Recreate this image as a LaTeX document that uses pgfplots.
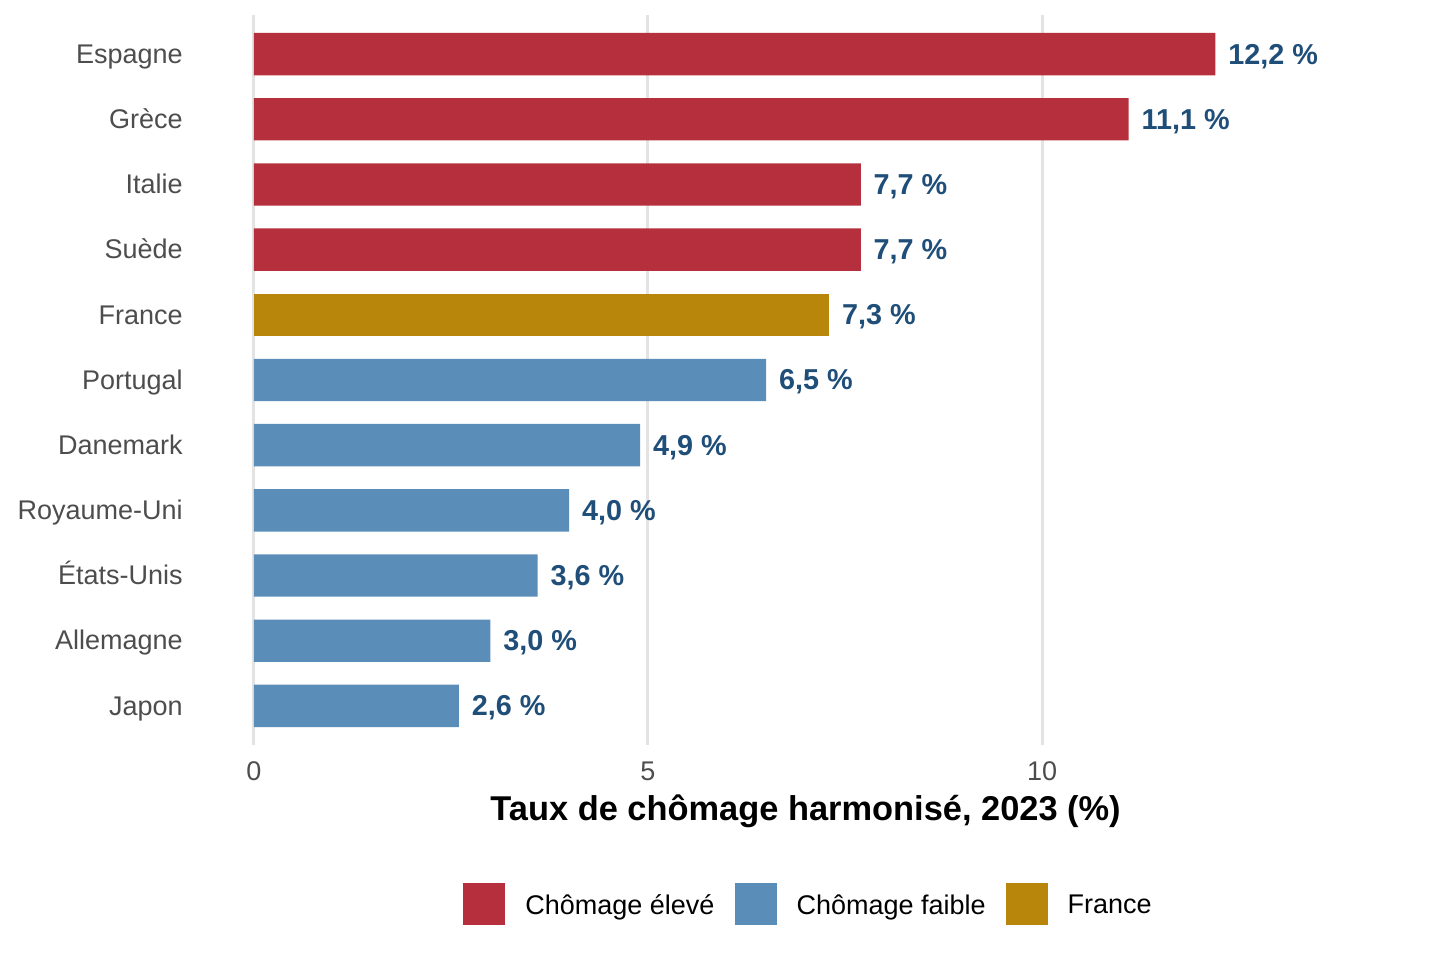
\documentclass[border=0pt]{standalone}
\usepackage{pgfplots}
\pgfplotsset{compat=1.18}
\usepackage{fontspec}
\setmainfont{Liberation Sans}
\definecolor{cred}{HTML}{B5303C}
\definecolor{cblue}{HTML}{5A8DB8}
\definecolor{cgold}{HTML}{B8860B}
\definecolor{lblue}{HTML}{1F4E79}
\definecolor{gridgray}{HTML}{E3E3E3}
\definecolor{tickgray}{HTML}{4D4D4D}
\begin{document}
\begin{tikzpicture}
\path (0,0) rectangle (720pt,480pt);
\begin{axis}[
  at={(99.4pt,107.5pt)}, anchor=south west,
  scale only axis, width=606.8pt, height=365pt,
  xmin=-0.7, xmax=14.7, ymin=0.4, ymax=11.6,
  xbar, bar width=0.65,
  axis line style={draw=none},
  major tick length=0pt,
  xtick={0,5,10},
  ytick={1,...,11},
  yticklabels={Japon,Allemagne,États-Unis,Royaume-Uni,Danemark,Portugal,France,Suède,Italie,Grèce,Espagne},
  xmajorgrids, ymajorgrids=false,
  grid style={color=gridgray, line width=1.5pt},
  /pgf/number format/assume math mode=true,
  yticklabel style={font=\fontsize{13.5}{13.5}\selectfont, text=tickgray, anchor=base east, inner sep=0pt, xshift=-7.9pt, yshift=-4.64pt},
  xticklabel style={font=\fontsize{13.5}{13.5}\selectfont, text=tickgray, anchor=north, inner sep=0pt, yshift=-8.3pt},
  xlabel={Taux de chômage harmonisé, 2023 (\%)},
  xlabel style={font=\bfseries\fontsize{17.2}{17.2}\selectfont, at={(axis description cs:0.5,-0.0904)}, anchor=center, inner sep=0pt},
  point meta=x,
  nodes near coords={\pgfmathprintnumber[fixed,fixed zerofill,precision=1,use comma]{\pgfplotspointmeta}~\%},
  nodes near coords style={anchor=base west, inner sep=0pt, xshift=6.25pt, yshift=-4.95pt, font=\bfseries\fontsize{14.4}{14.4}\selectfont, text=lblue},
  legend style={at={(axis description cs:0.5016,-0.2178)}, anchor=center, draw=none, fill=none,
    legend columns=3, font=\fontsize{13.5}{13.5}\selectfont,
    /tikz/every odd column/.append style={column sep=10pt},
    /tikz/every even column/.append style={column sep=10pt},
    nodes={inner sep=0pt}},
  legend cell align=left,
  legend image code/.code={\fill[#1] (0pt,-9.65pt) rectangle (21pt,11.35pt);},
]
\addplot[fill=cred, draw=none, bar shift=0pt] coordinates {(12.2,11) (11.1,10) (7.7,9) (7.7,8)};
\addlegendentry{Chômage élevé}
\addplot[fill=cblue, draw=none, bar shift=0pt] coordinates {(6.5,6) (4.9,5) (4.0,4) (3.6,3) (3.0,2) (2.6,1)};
\addlegendentry{Chômage faible}
\addplot[fill=cgold, draw=none, bar shift=0pt] coordinates {(7.3,7)};
\addlegendentry{France}
\end{axis}
\end{tikzpicture}
\end{document}
